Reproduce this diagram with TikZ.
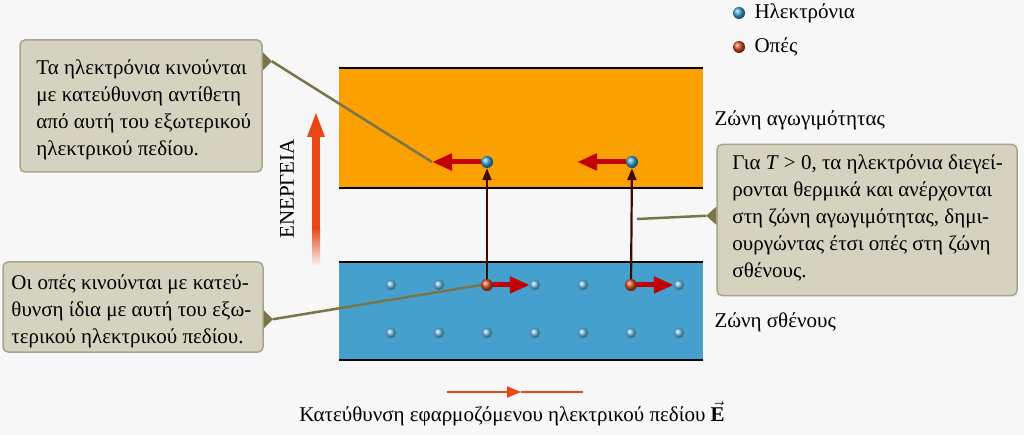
\documentclass[tikz,border=0pt]{standalone}
\usepackage{fontspec}
\setmainfont{Liberation Serif}
\usetikzlibrary{arrows.meta,calc}

\definecolor{bgcol}{RGB}{247,247,247}
\definecolor{condband}{RGB}{250,160,0}
\definecolor{valband}{RGB}{70,160,205}
\definecolor{boxfill}{RGB}{213,211,192}
\definecolor{boxedge}{RGB}{168,165,140}
\definecolor{pointer}{RGB}{122,117,72}
\definecolor{motion}{RGB}{195,0,5}
\definecolor{jump}{RGB}{65,10,0}
\definecolor{energy}{RGB}{232,72,20}
\definecolor{elec}{RGB}{55,165,220}
\definecolor{hole}{RGB}{228,72,30}
\definecolor{latt}{RGB}{120,195,235}

\tikzset{
  txt/.style={font=\fontsize{21}{27}\selectfont},
  callbox/.style={draw=boxedge,fill=boxfill,line width=1.5pt,rounded corners=5pt,inner sep=0pt},
  calltext/.style={txt,align=left,anchor=west,inner sep=0pt},
  tag/.style={fill=pointer},
  tagline/.style={pointer,line width=2.5pt},
  electron/.style={circle,inner sep=0pt,minimum size=12pt,shading=ball,ball color=elec},
  holeball/.style={circle,inner sep=0pt,minimum size=12pt,shading=ball,ball color=hole},
  lattdot/.style={circle,inner sep=0pt,minimum size=10pt,shading=ball,ball color=latt},
  drift/.style={motion,line width=5pt,-{Triangle[length=20pt,width=16pt]}},
  excite/.style={jump,line width=2.2pt,-{Triangle[length=12pt,width=9pt]}},
  bandline/.style={black,line width=1.5pt},
}

\begin{document}
\begin{tikzpicture}[x=1pt,y=-1pt]

% φόντο
\useasboundingbox (0,0) rectangle (1024,435);
\fill[bgcol] (0,0) rectangle (1024,435);

% πλαίσια σχολίων
\node[callbox,minimum width=242pt,minimum height=132pt] (c1) at (141,106) {};
\node[calltext] (c1t) at ($(c1.west)+(17,4)$)
  {Τα ηλεκτρόνια κινούνται\\με κατεύθυνση αντίθετη\\από αυτή του εξωτερικού\\ηλεκτρικού πεδίου.};
\node[callbox,minimum width=300pt,minimum height=151pt] (c2) at (867,220) {};
\node[calltext] (c2t) at ($(c2.west)+(16,-2)$)
  {Για \textit{T} > 0, τα ηλεκτρόνια διεγεί-\\ρονται θερμικά και ανέρχονται\\στη ζώνη αγωγιμότητας, δημι-\\ουργώντας έτσι οπές στη ζώνη\\σθένους.};
\node[callbox,minimum width=260pt,minimum height=90pt] (c3) at (133,307) {};
\node[calltext] (c3t) at ($(c3.west)+(9,4)$)
  {Οι οπές κινούνται με κατεύ-\\θυνση ίδια με αυτή του εξω-\\τερικού ηλεκτρικού πεδίου.};

% ζώνες
\fill[condband] (339,68) rectangle (703,188);
\draw[bandline] (339,68) -- (703,68);
\draw[bandline] (339,188) -- (703,188);
\fill[valband] (339,262) rectangle (703,360);
\draw[bandline] (339,262) -- (703,262);
\draw[bandline] (339,360) -- (703,360);

\node[txt,anchor=west] (lc) at (711,120) {Ζώνη αγωγιμότητας};
\node[txt,anchor=west] (lv) at (711,322) {Ζώνη σθένους};

% υπόμνημα
\node[electron] (le) at (739,13) {};
\node[txt,anchor=west] (let) at (751,13) {Ηλεκτρόνια};
\node[holeball] (lh) at (739,47) {};
\node[txt,anchor=west] (lht) at (751,47) {Οπές};

% άξονας ενέργειας
\fill[energy] (312,135) rectangle (320,228);
\shade[top color=energy,bottom color=bgcol] (312,228) rectangle (320,266);
\fill[energy] (307,137) -- (316,113) -- (325,137) -- cycle;
\node[txt,rotate=90] (en) at (287,189) {ΕΝΕΡΓΕΙΑ};

% πλέγμα ζώνης σθένους
\foreach \r/\y in {1/285,2/333}
  \foreach \c in {0,...,6}
    \node[lattdot] (d\r\c) at ({391+48*\c},\y) {};

% ηλεκτρόνια και οπές
\node[electron] (e1) at (487,162) {};
\node[electron] (e2) at (632,162) {};
\node[holeball] (h1) at (487,285) {};
\node[holeball] (h2) at (631,285) {};
\coordinate (a1) at (432,162);
\coordinate (a2) at (577,162);

% γραμμές σχολίων
\coordinate (p1) at ($(c1.north east)+(9,22)$);
\fill[tag] ($(c1.north east)+(0,13)$) -- (p1) -- ($(c1.north east)+(0,31)$) -- cycle;
\draw[tagline] (p1) -- (a1);
\coordinate (p2) at ($(c2.north west)+(-10,72)$);
\fill[tag] ($(c2.north west)+(0,63)$) -- (p2) -- ($(c2.north west)+(0,81)$) -- cycle;
\coordinate (t2) at (637,219);
\draw[tagline] (p2) -- (t2);
\coordinate (p3) at ($(c3.north east)+(9,58)$);
\fill[tag] ($(c3.north east)+(0,49)$) -- (p3) -- ($(c3.north east)+(0,67)$) -- cycle;
\draw[tagline] (p3) -- (h1.west);

% μεταβάσεις και κινήσεις
\draw[excite] (h1) -- (e1);
\draw[excite] (h2) -- (e2);
\draw[drift] (e1) -- (a1);
\draw[drift] (e2) -- (a2);
\draw[drift] (h1) -- (d13);
\draw[drift] (h2) -- (d16);

% φορά πεδίου
\coordinate (f0) at (447,392);
\coordinate (fm) at (521,392);
\coordinate (f1) at (583,392);
\draw[energy,line width=2pt,-{Triangle[length=14pt,width=11pt]}] (f0) -- (fm);
\draw[energy,line width=2pt] (fm) -- (f1);
\node[txt] (cap) at (512,414) {Κατεύθυνση εφαρμοζόμενου ηλεκτρικού πεδίου $\vec{\textbf{E}}$};

\end{tikzpicture}
\end{document}
